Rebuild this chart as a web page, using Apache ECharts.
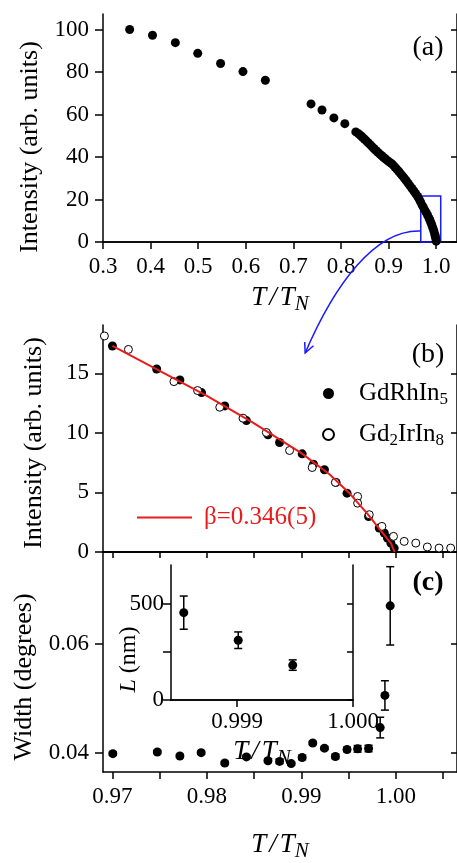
<!DOCTYPE html>
<html>
<head>
<meta charset="utf-8">
<script src="https://cdn.jsdelivr.net/npm/echarts@6/dist/echarts.min.js"></script>
<style>
  html, body { margin: 0; padding: 0; background: #fff; }
  #chart { width: 457px; height: 863px; }
</style>
</head>
<body>
<div id="chart"></div>
<script>
// ---- panel (a): intensity over the whole ordered range
var aT = [0.356, 0.404, 0.452, 0.499, 0.547, 0.594, 0.641,
  0.737, 0.760, 0.785, 0.808, 0.831,
  0.837, 0.841, 0.845, 0.849, 0.853, 0.857, 0.861, 0.865, 0.869, 0.873,
  0.877, 0.881, 0.885, 0.889, 0.893, 0.897, 0.901, 0.905, 0.909, 0.913,
  0.917, 0.921, 0.925, 0.929, 0.933, 0.937, 0.941, 0.945, 0.949, 0.953,
  0.957, 0.961, 0.964, 0.967, 0.970, 0.973, 0.976, 0.979, 0.982, 0.985,
  0.987, 0.989, 0.991, 0.993, 0.995, 0.997, 0.998, 0.999, 1.000];
var aI = [100, 97.3, 93.8, 88.8, 84.0, 80.2, 76.1,
  65.0, 62.1, 58.4, 55.7, 51.8,
  50.9, 50.1, 49.3, 48.5, 47.6, 46.7, 45.8, 44.9, 44.0, 43.1,
  42.3, 41.5, 40.7, 39.9, 39.2, 38.4, 37.7, 37.1, 36.3, 35.3,
  34.3, 33.3, 32.2, 31.1, 30.0, 28.8, 27.6, 26.4, 25.2, 24.0,
  22.7, 21.4, 20.2, 18.9, 17.5, 16.3, 15.0, 13.8, 12.5, 11.1,
  10.1, 9.0, 7.8, 6.5, 5.2, 3.6, 2.7, 1.6, 0.4];

// ---- panel (b): close to T_N
var rhT = [0.97000, 0.97468, 0.97714, 0.97943, 0.98189, 0.98418, 0.98646, 0.98769,
  0.99008, 0.99128, 0.99244, 0.99367, 0.99483, 0.99711, 0.99824, 0.99877,
  0.99911, 0.99947, 0.99982];
var rhI = [17.29, 15.36, 14.44, 13.38, 12.26, 11.03, 9.83, 9.19,
  8.24, 7.37, 6.90, 5.84, 4.94, 2.98, 2.01, 1.59,
  1.17, 0.75, 0.33];
var irT = [0.96915, 0.97169, 0.97651, 0.97901, 0.98136, 0.98382, 0.98629, 0.98875,
  0.99114, 0.99360, 0.99595, 0.99595, 0.99718, 0.99852, 0.99975, 1.00088,
  1.00211, 1.00333, 1.00457, 1.00580];
var irI = [18.13, 17.00, 14.30, 13.55, 12.15, 11.23, 10.03, 8.52,
  7.09, 5.84, 4.66, 4.10, 3.13, 2.15, 1.31, 0.89,
  0.75, 0.42, 0.33, 0.33];
var fitT = [0.970, 0.975, 0.980, 0.985, 0.990, 0.993, 0.995, 0.997, 0.998, 0.999, 0.9995, 0.99985];
var fitI = [17.3, 15.2, 13.1, 10.8, 8.3, 6.5, 5.0, 3.2, 2.2, 1.2, 0.7, 0.0];

// ---- panel (c): peak width
var wT = [0.97004, 0.97475, 0.97714, 0.97939, 0.98189, 0.98418, 0.98646, 0.98769,
  0.98892, 0.99008, 0.99120, 0.99244, 0.99360, 0.99483, 0.99595, 0.99711,
  0.99834, 0.99884, 0.99940];
var wW = [0.03982, 0.04012, 0.03940, 0.04000, 0.03810, 0.03923, 0.03852, 0.03840,
  0.03799, 0.03911, 0.04178, 0.04083, 0.03929, 0.04059, 0.04071, 0.04077,
  0.04462, 0.05053, 0.06700];
var wErr = [0.0003, 0.0003, 0.0003, 0.0003, 0.0003, 0.0003, 0.0003, 0.0004,
  0.0003, 0.0004, 0.0003, 0.0003, 0.0004, 0.0004, 0.0006, 0.0006,
  0.0019, 0.0027, 0.0072];

// ---- inset: correlation length
var lT = [0.99854, 0.99901, 0.99948];
var lL = [453, 310, 181];
var lErr = [86, 43, 27];

// ---- ticks and labels
var aXTicks = [0.3, 0.4, 0.5, 0.6, 0.7, 0.8, 0.9, 1.0];
var aYTicks = [0, 20, 40, 60, 80, 100];
var bYTicks = [0, 5, 10, 15];
var cXTicks = [0.970, 0.975, 0.980, 0.985, 0.990, 0.995, 1.000, 1.005];
var cXLabels = [0.97, 0.98, 0.99, 1.00];
var cYTicks = [0.04, 0.06];
var inXTicks = [0.999, 1.000];
var inYTicks = [0, 250, 500];
var inYLabels = [0, 500];

// zoom box in (a) and the arrow that links it to (b)
var boxT = [0.9675, 1.0094];
var boxI = [0, 21.6];
var arrowFrom = [0.9675, 5.2];
var arrowTo = [0.9904, 16.7];

var FONT = 'Liberation Serif';
var RED = '#e81c1c';
var BLUE = '#1a1aff';

function pairs(xs, ys, zs) {
  return xs.map(function (x, i) { return zs ? [x, ys[i], zs[i]] : [x, ys[i]]; });
}

var tRich = {
  i: { fontStyle: 'italic', fontSize: 27, fontFamily: FONT },
  s: { fontStyle: 'italic', fontSize: 21, fontFamily: FONT, padding: [14, 0, 0, 0] }
};
var tName = '{i|T} {i|/} {i|T}{s|N}';

var axLine = { show: true, lineStyle: { color: '#000', width: 1.5 } };

function xBottom(grid, min, max, ticks, labels, fmt, name, gap, margin) {
  return {
    type: 'value', gridIndex: grid, position: 'bottom', min: min, max: max,
    axisLine: axLine, splitLine: { show: false },
    axisTick: { show: true, inside: false, length: 7, customValues: ticks, lineStyle: { width: 1.5, color: '#000' } },
    axisLabel: labels ? { show: true, customValues: labels, formatter: fmt, fontSize: 23, color: '#000', margin: margin || 13, fontFamily: FONT } : { show: false },
    name: name || '', nameLocation: 'middle', nameGap: gap || 0,
    nameTextStyle: { rich: tRich, color: '#000' }
  };
}
function xTop(grid, min, max, ticks) {
  return {
    type: 'value', gridIndex: grid, position: 'top', min: min, max: max,
    axisLine: axLine, splitLine: { show: false },
    axisTick: { show: !!ticks, inside: true, length: 6, customValues: ticks, lineStyle: { width: 1.5, color: '#000' } },
    axisLabel: { show: false }
  };
}
function yLeft(grid, min, max, ticks, labels, fmt, name, gap, nameStyle, margin) {
  return {
    type: 'value', gridIndex: grid, position: 'left', min: min, max: max,
    axisLine: axLine, splitLine: { show: false },
    axisTick: { show: true, inside: false, length: 8, customValues: ticks, lineStyle: { width: 1.5, color: '#000' } },
    axisLabel: { show: true, customValues: labels, formatter: fmt, fontSize: 23, color: '#000', margin: margin || 14, fontFamily: FONT },
    name: name, nameLocation: 'middle', nameGap: gap,
    nameTextStyle: nameStyle
  };
}
function yRight(grid, min, max, ticks) {
  return {
    type: 'value', gridIndex: grid, position: 'right', min: min, max: max,
    axisLine: axLine, splitLine: { show: false },
    axisTick: { show: true, inside: true, length: 6, customValues: ticks, lineStyle: { width: 1.5, color: '#000' } },
    axisLabel: { show: false }
  };
}

function errBars(capW) {
  return function (params, api) {
    var x = api.value(0), y = api.value(1), e = api.value(2);
    var lo = api.coord([x, y - e]);
    var hi = api.coord([x, y + e]);
    var st = { stroke: '#000', lineWidth: 1.5 };
    return {
      type: 'group',
      children: [
        { type: 'line', shape: { x1: lo[0], y1: lo[1], x2: hi[0], y2: hi[1] }, style: st },
        { type: 'line', shape: { x1: lo[0] - capW, y1: lo[1], x2: lo[0] + capW, y2: lo[1] }, style: st },
        { type: 'line', shape: { x1: hi[0] - capW, y1: hi[1], x2: hi[0] + capW, y2: hi[1] }, style: st }
      ]
    };
  };
}

function yTitle(shift) {
  return { fontSize: 26, color: '#000', fontFamily: FONT, padding: [0, shift, 0, 0] };
}
var cMin = 0.969, cMax = 1.00647;
var dot = { color: '#000', opacity: 1 };

var chart = echarts.init(document.getElementById('chart'));

var insetY = yLeft(3, 0, 700, inYTicks, inYLabels, null, '{i|L} (nm)', 30,
  { fontSize: 24, color: '#000', fontFamily: FONT, padding: [0, 54, 0, 0], rich: { i: { fontStyle: 'italic', fontSize: 24, fontFamily: FONT } } }, 7);
insetY.nameMoveOverlap = false;

var option = {
  animation: false,
  backgroundColor: '#fff',
  textStyle: { fontFamily: FONT },
  grid: [
    { left: 103, top: 14, width: 355, height: 228 },
    { left: 103, top: 325, width: 355, height: 227 },
    { left: 103, top: 552, width: 355, height: 228 },
    { left: 171, top: 565, width: 182, height: 135, show: true, backgroundColor: '#fff', borderWidth: 0 }
  ],
  xAxis: [
    xBottom(0, 0.3, 1.0436, aXTicks, aXTicks, function (v) { return v.toFixed(1); }, tName, 38),
    xTop(0, 0.3, 1.0436, aXTicks),
    { type: 'value', gridIndex: 1, position: 'bottom', min: cMin, max: cMax, axisLine: axLine, axisTick: { show: false }, axisLabel: { show: false }, splitLine: { show: false } },
    xTop(1, cMin, cMax, cXTicks),
    xBottom(2, cMin, cMax, cXTicks, cXLabels, function (v) { return v.toFixed(2); }, tName, 55),
    xTop(2, cMin, cMax, cXTicks),
    xBottom(3, 0.99843, 1.0, inXTicks, inXTicks, function (v) { return v.toFixed(3); }, tName, 34, 10),
    xTop(3, 0.99843, 1.0, [0.999])
  ],
  yAxis: [
    yLeft(0, 0, 107.3, aYTicks, aYTicks, null, 'Intensity (arb. units)', 56, yTitle(38)),
    yRight(0, 0, 107.3, aYTicks),
    yLeft(1, 0, 19.05, bYTicks, bYTicks, null, 'Intensity (arb. units)', 56, yTitle(9)),
    yRight(1, 0, 19.05, bYTicks),
    yLeft(2, 0.03645, 0.0769, cYTicks, cYTicks, function (v) { return v.toFixed(2); }, 'Width (degrees)', 66, yTitle(30)),
    yRight(2, 0.03645, 0.0769, cYTicks),
    insetY,
    yRight(3, 0, 700, inYTicks)
  ],
  legend: [
    {
      data: ['GdRhIn5', 'Gd2IrIn8'], orient: 'vertical', left: 317, top: 376,
      itemWidth: 11, itemHeight: 11, itemGap: 14,
      formatter: function (n) { return n === 'GdRhIn5' ? 'GdRhIn{s|5}' : 'Gd{s|2}IrIn{s|8}'; },
      textStyle: {
        fontSize: 25, color: '#000', fontFamily: FONT, padding: [0, 0, 0, 20],
        rich: { s: { fontSize: 17, fontFamily: FONT, padding: [12, 0, 0, 0] } }
      }
    },
    {
      data: ['β=0.346(5)'], left: 132, top: 500, icon: 'rect',
      itemWidth: 55, itemHeight: 2,
      textStyle: { fontSize: 25, color: RED, fontFamily: FONT, padding: [0, 0, 0, 7] }
    }
  ],
  series: [
    {
      type: 'scatter', name: 'a', xAxisIndex: 0, yAxisIndex: 0,
      data: pairs(aT, aI), symbolSize: 9, itemStyle: dot,
      markArea: {
        silent: true,
        itemStyle: { color: 'rgba(0,0,0,0)', borderColor: BLUE, borderWidth: 1.5 },
        data: [[{ coord: [boxT[0], boxI[0]] }, { coord: [boxT[1], boxI[1]] }]]
      }
    },
    {
      type: 'scatter', name: 'GdRhIn5', xAxisIndex: 2, yAxisIndex: 2,
      data: pairs(rhT, rhI), symbolSize: 9, itemStyle: dot, z: 2
    },
    {
      type: 'scatter', name: 'Gd2IrIn8', xAxisIndex: 2, yAxisIndex: 2,
      data: pairs(irT, irI), symbolSize: 8,
      itemStyle: { color: '#fff', borderColor: '#000', borderWidth: 1, opacity: 1 }, z: 3
    },
    {
      type: 'line', name: 'β=0.346(5)', xAxisIndex: 2, yAxisIndex: 2,
      data: pairs(fitT, fitI), showSymbol: false, smooth: false,
      lineStyle: { color: RED, width: 2 }, itemStyle: { color: RED }, z: 4
    },
    {
      type: 'custom', name: 'wErr', xAxisIndex: 4, yAxisIndex: 4,
      data: pairs(wT, wW, wErr), encode: { x: 0, y: 1 }, renderItem: errBars(4), z: 2
    },
    {
      type: 'scatter', name: 'width', xAxisIndex: 4, yAxisIndex: 4,
      data: pairs(wT, wW), symbolSize: 9, itemStyle: dot, z: 3
    },
    {
      type: 'custom', name: 'lErr', xAxisIndex: 6, yAxisIndex: 6,
      data: pairs(lT, lL, lErr), encode: { x: 0, y: 1 }, renderItem: errBars(4), z: 5
    },
    {
      type: 'scatter', name: 'L', xAxisIndex: 6, yAxisIndex: 6,
      data: pairs(lT, lL), symbolSize: 9, itemStyle: dot, z: 6
    }
  ]
};

chart.setOption(option);

// arrow from the box in (a) down into (b)
var S = chart.convertToPixel({ gridIndex: 0 }, arrowFrom);
var E = chart.convertToPixel({ gridIndex: 1 }, arrowTo);
var c1 = [S[0] - 45, S[1] - 2];
var c2 = [E[0] + 30, E[1] - 70];
var dx = E[0] - c2[0], dy = E[1] - c2[1];
var dl = Math.sqrt(dx * dx + dy * dy);
dx /= dl; dy /= dl;
function wing(a) {
  var ca = Math.cos(a), sa = Math.sin(a);
  return [E[0] - 11 * (dx * ca - dy * sa), E[1] - 11 * (dx * sa + dy * ca)];
}
var labelFont = function (w) { return w + ' 28px "' + FONT + '"'; };

chart.setOption({
  graphic: [
    {
      type: 'bezierCurve', z: 100,
      shape: { x1: S[0], y1: S[1], cpx1: c1[0], cpy1: c1[1], cpx2: c2[0], cpy2: c2[1], x2: E[0], y2: E[1] },
      style: { stroke: BLUE, lineWidth: 1.5, fill: null }
    },
    {
      type: 'polyline', z: 100,
      shape: { points: [wing(0.45), E, wing(-0.45)] },
      style: { stroke: BLUE, lineWidth: 1.5, fill: null }
    },
    { type: 'text', x: 428, y: 48, z: 100, style: { text: '(a)', font: labelFont('normal'), fill: '#000', align: 'center', verticalAlign: 'middle' } },
    { type: 'text', x: 428, y: 355, z: 100, style: { text: '(b)', font: labelFont('normal'), fill: '#000', align: 'center', verticalAlign: 'middle' } },
    { type: 'text', x: 428, y: 583, z: 100, style: { text: '(c)', font: labelFont('bold'), fill: '#000', align: 'center', verticalAlign: 'middle' } }
  ]
});
</script>
</body>
</html>
